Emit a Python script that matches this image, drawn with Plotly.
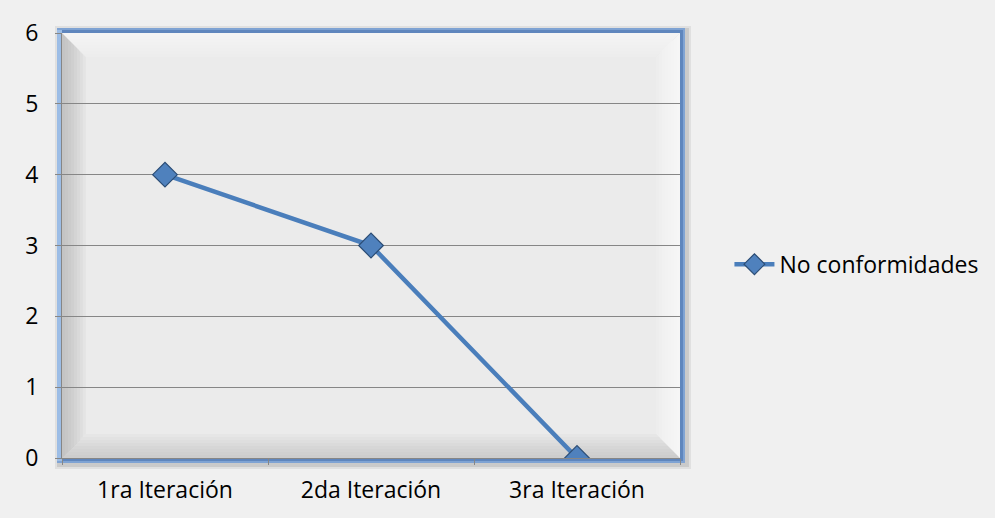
import plotly.graph_objects as go

categories = ["1ra Iteración", "2da Iteración", "3ra Iteración"]
values = [4, 3, 0]
series_name = "No conformidades"
y_ticks = [0, 1, 2, 3, 4, 5, 6]

W, H = 995, 518
L, R, T, B = 62, 312, 33, 60
pw, ph = W - L - R, H - T - B

fig = go.Figure()
fig.add_trace(go.Scatter(
    x=categories, y=values, name=series_name, mode="lines+markers",
    line=dict(color="#4a7ebb", width=4.5),
    marker=dict(symbol="diamond", size=19, color="#4f81bd",
                line=dict(color="#2c4d75", width=1.2)),
))

shapes = []
def px(dx):
    return dx / pw
def py(dy):
    return dy / ph

# drop shadow / blue frame around plot area
for i, (pad, col, op) in enumerate([(9, "#b0b0b0", 0.25), (7, "#a0a0a0", 0.35), (5, "#7fa3d3", 1.0), (3, "#5f86bd", 1.0)]):
    shapes.append(dict(type="rect", xref="paper", yref="paper", layer="below",
                       x0=-px(pad) + (px(2) if i < 2 else 0), x1=1 + px(pad) + (px(2) if i < 2 else 0),
                       y0=-py(pad) - (py(2) if i < 2 else 0), y1=1 + py(pad) - (py(2) if i < 2 else 0),
                       fillcolor=col, opacity=op, line=dict(width=0)))
# left light-blue strip
shapes.append(dict(type="rect", xref="paper", yref="paper", layer="below",
                   x0=-px(5), x1=0, y0=-py(3), y1=1 + py(3),
                   fillcolor="#9cbde6", line=dict(width=0)))
# base fill
shapes.append(dict(type="rect", xref="paper", yref="paper", layer="below",
                   x0=0, x1=1, y0=0, y1=1, fillcolor="#ebebeb", line=dict(width=0)))

# bevel bands
N = 8
bw = 24
def trap(side, w):
    a, b = px(w), py(w)
    if side == "left":
        return f"M 0 0 L {a} {b} L {a} {1-b} L 0 1 Z"
    if side == "right":
        return f"M 1 0 L {1-a} {b} L {1-a} {1-b} L 1 1 Z"
    if side == "top":
        return f"M 0 1 L {a} {1-b} L {1-a} {1-b} L 1 1 Z"
    return f"M 0 0 L {a} {b} L {1-a} {b} L 1 0 Z"

for side, col, op in [("left", "#a8a8a8", 0.09), ("bottom", "#b4b4b4", 0.08),
                      ("top", "#ffffff", 0.10), ("right", "#ffffff", 0.12)]:
    for k in range(1, N + 1):
        shapes.append(dict(type="path", xref="paper", yref="paper", layer="below",
                           path=trap(side, bw * k / N), fillcolor=col, opacity=op,
                           line=dict(width=0)))

font = dict(family="'Open Sans', Lato, sans-serif", size=23, color="#000000")

fig.update_layout(
    width=W, height=H,
    margin=dict(l=L, r=R, t=T, b=B, pad=0),
    paper_bgcolor="#f0f0f0",
    plot_bgcolor="rgba(0,0,0,0)",
    shapes=shapes,
    font=font,
    showlegend=True,
    legend=dict(x=1.08, y=0.456, xanchor="left", yanchor="middle",
                bgcolor="rgba(0,0,0,0)", font=font, itemwidth=40),
    xaxis=dict(type="category", range=[-0.5, 2.5], showgrid=False,
               showline=True, linecolor="#868686", linewidth=1,
               ticks="outside", ticklen=6, tickcolor="#868686", tickson="boundaries",
               ticklabelstandoff=11, tickfont=font, fixedrange=True),
    yaxis=dict(range=[0, 6], tickvals=y_ticks, showgrid=True, gridcolor="#868686",
               gridwidth=1, zeroline=False, showline=True, linecolor="#868686",
               linewidth=1, ticks="outside", ticklen=6, tickcolor="#868686",
               ticklabelstandoff=12, tickfont=font, fixedrange=True),
)

fig.write_html("out.html")
